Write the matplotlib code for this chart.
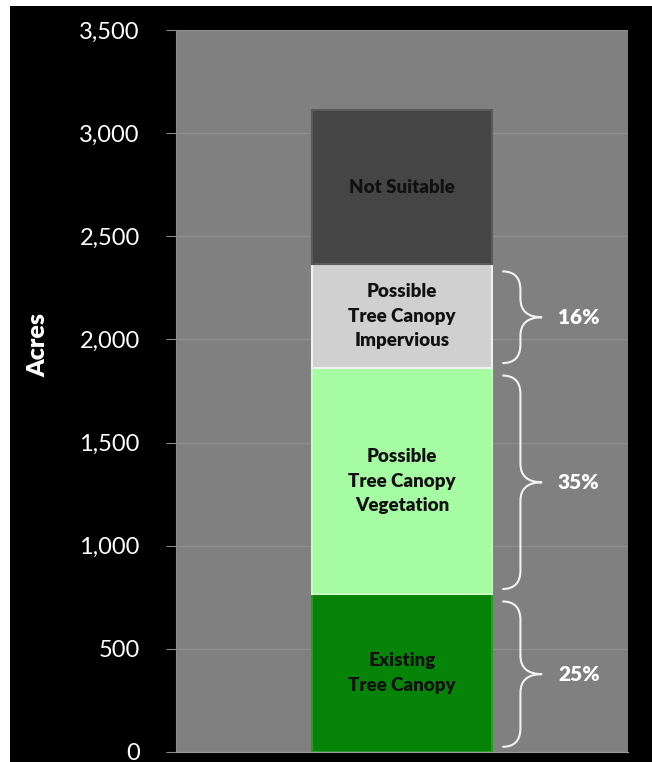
import numpy as np
import matplotlib.pyplot as plt
from matplotlib.path import Path
from matplotlib.patches import PathPatch, Rectangle

plt.rcParams['font.family'] = ['Lato', 'DejaVu Sans']

# stacked segments, bottom to top
segments = ['Existing\nTree Canopy', 'Possible\nTree Canopy\nVegetation',
            'Possible\nTree Canopy\nImpervious', 'Not Suitable']
acres = [765, 1095, 505, 745]
colors = ['#068408', '#a6fca2', '#d0d0d0', '#454545']
edges = ['#2a9a2a', '#c4ffc0', '#f0f0f0', '#5a5a5a']

pct_labels = ['25%', '35%', '16%']
yticks = [0, 500, 1000, 1500, 2000, 2500, 3000, 3500]

fig = plt.figure(figsize=(6.52, 7.62), dpi=100, facecolor='white')
fig.patches.append(Rectangle((10 / 652, 0), 1, (762 - 6) / 762, transform=fig.transFigure,
                             facecolor='black', edgecolor='none', zorder=-10))
ax = fig.add_axes([176 / 652, 10 / 762, (628 - 176) / 652, (752 - 30) / 762])
ax.set_facecolor('#808080')

bottom = 0
bounds = []
for name, val, c, ec in zip(segments, acres, colors, edges):
    ax.bar(0, val, bottom=bottom, width=0.4, color=c, edgecolor=ec, linewidth=1.5, zorder=3)
    ax.text(0, bottom + val / 2, name, ha='center', va='center', fontsize=13.5,
            fontweight='heavy', color='#111111', linespacing=1.55, zorder=4)
    bounds.append((bottom, bottom + val))
    bottom += val

# braces next to the first three segments
x0, x1, xt = 0.222, 0.262, 0.31
r = 90
for (lo, hi), lab in zip(bounds[:3], pct_labels):
    top, bot = hi - 35, lo + 25
    mid = (top + bot) / 2
    verts = [(x0, top), (x1, top), (x1, top - r), (x1, mid + r), (x1, mid), (xt, mid),
             (x1, mid), (x1, mid - r), (x1, bot + r), (x1, bot), (x0, bot)]
    codes = [Path.MOVETO, Path.CURVE3, Path.CURVE3, Path.LINETO, Path.CURVE3, Path.CURVE3,
             Path.CURVE3, Path.CURVE3, Path.LINETO, Path.CURVE3, Path.CURVE3]
    ax.add_patch(PathPatch(Path(verts, codes), facecolor='none', edgecolor='#f2f2f2',
                           linewidth=1.5, zorder=4))
    ax.text(xt + 0.035, mid, lab, ha='left', va='center', fontsize=15,
            fontweight='heavy', color='white', zorder=4)

ax.set_xlim(-0.5, 0.5)
ax.set_ylim(0, 3500)
ax.set_xticks([])
ax.set_yticks(yticks)
ax.set_yticklabels([f'{v:,}' for v in yticks], color='white', fontsize=17)
ax.tick_params(axis='y', length=7, color='#8a8a8a', pad=19)
ax.yaxis.grid(True, color='#8e8e8e', linewidth=1)
ax.set_axisbelow(True)
for s in ['top', 'right']:
    ax.spines[s].set_visible(False)
ax.spines['left'].set_color('#8a8a8a')
ax.spines['bottom'].set_color('#9a9a9a')
ax.set_ylabel('Acres', color='white', fontsize=18, fontweight='heavy')
ax.yaxis.set_label_coords(-0.28, 0.564)

fig.savefig('out.png', dpi=100, facecolor=fig.get_facecolor())
